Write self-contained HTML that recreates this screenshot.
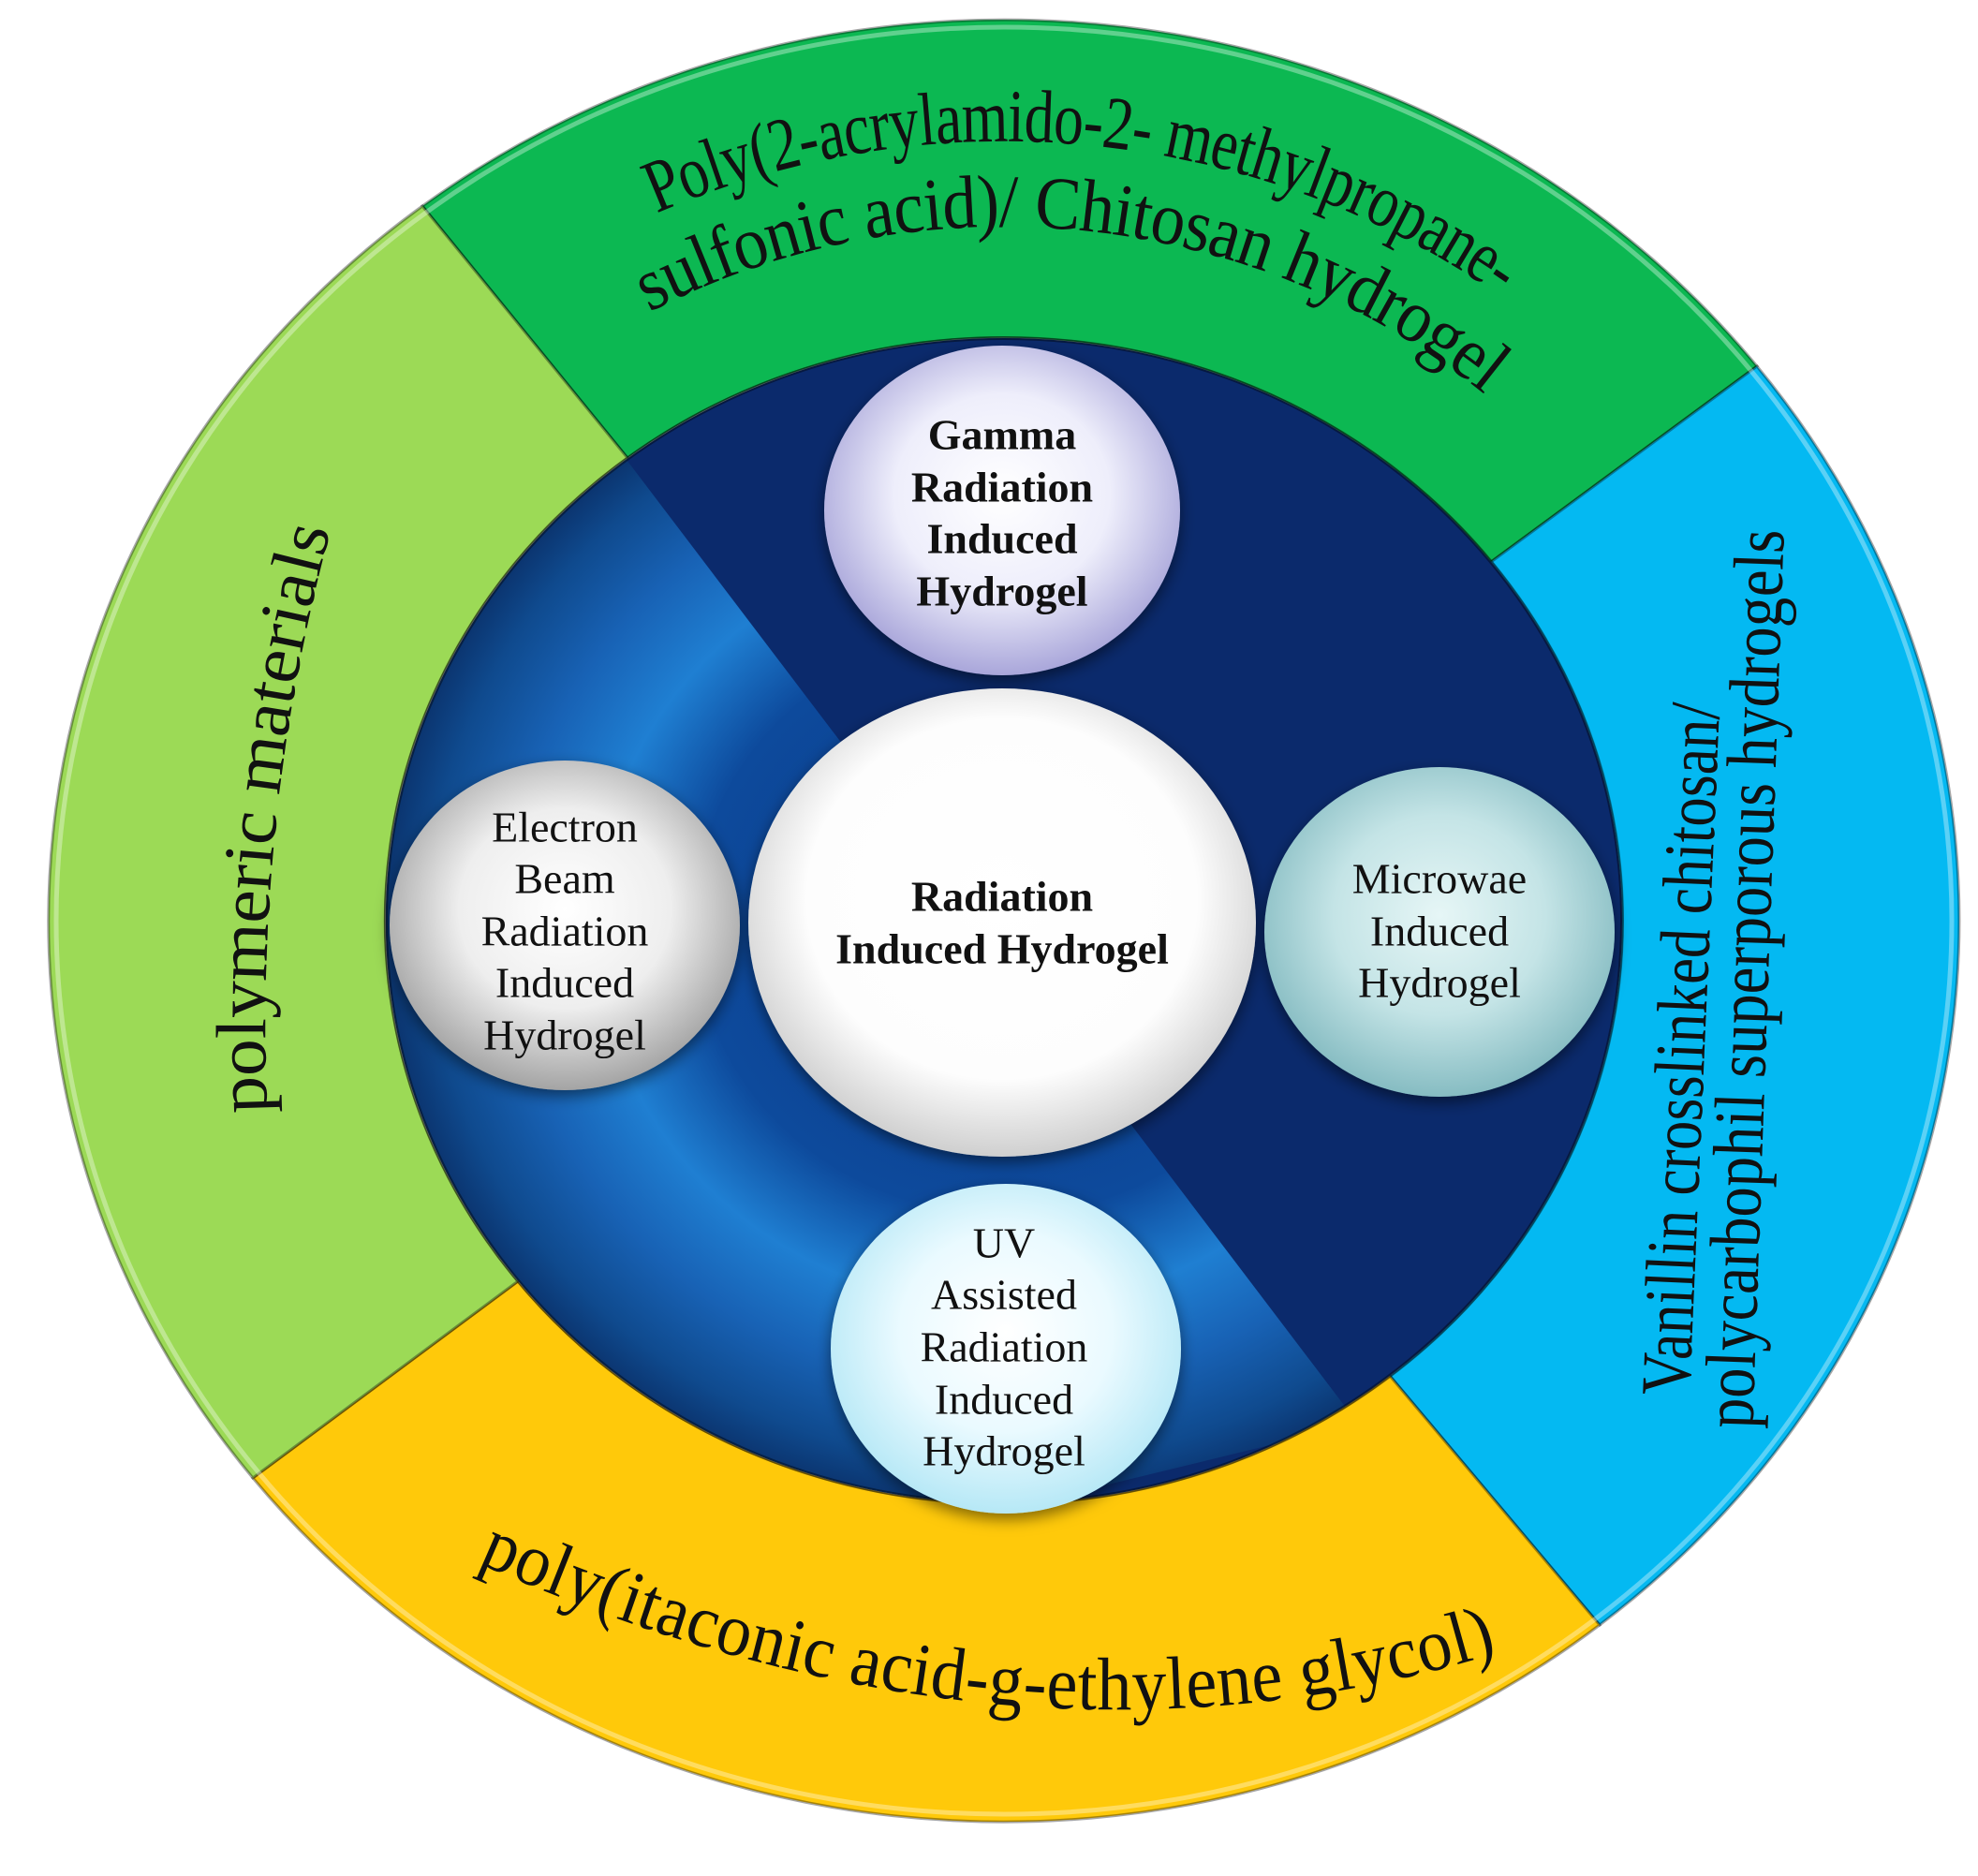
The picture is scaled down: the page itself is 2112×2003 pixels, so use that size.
<!DOCTYPE html>
<html><head><meta charset="utf-8"><style>
html,body{margin:0;padding:0;background:#fff;}
svg{display:block;}
text{font-family:"Liberation Serif",serif;fill:#111;}
</style></head><body>
<svg width="2112" height="2003" viewBox="0 0 2112 2003" xmlns="http://www.w3.org/2000/svg">
<defs>
  <radialGradient id="ring" cx="1072" cy="985" r="660" gradientUnits="userSpaceOnUse" gradientTransform="translate(0,56) scale(1,0.943)">
    <stop offset="0" stop-color="#0a3a88"/>
    <stop offset="0.5" stop-color="#0d4a9c"/>
    <stop offset="0.66" stop-color="#1f7fd2"/>
    <stop offset="0.8" stop-color="#1862b5"/>
    <stop offset="0.93" stop-color="#0f4a8e"/>
    <stop offset="1" stop-color="#0b3570"/>
  </radialGradient>
  <radialGradient id="gW" cx="0.5" cy="0.45" r="0.55">
    <stop offset="0" stop-color="#ffffff"/><stop offset="0.7" stop-color="#fdfdfd"/><stop offset="1" stop-color="#cfcfcf"/>
  </radialGradient>
  <radialGradient id="gGamma" cx="0.5" cy="0.45" r="0.55">
    <stop offset="0" stop-color="#ffffff"/><stop offset="0.55" stop-color="#eeeefb"/><stop offset="1" stop-color="#a9a6da"/>
  </radialGradient>
  <radialGradient id="gGray" cx="0.5" cy="0.45" r="0.55">
    <stop offset="0" stop-color="#ffffff"/><stop offset="0.55" stop-color="#eeeeee"/><stop offset="1" stop-color="#a4a4a4"/>
  </radialGradient>
  <radialGradient id="gTeal" cx="0.5" cy="0.45" r="0.55">
    <stop offset="0" stop-color="#e6f6f6"/><stop offset="0.55" stop-color="#c4e4e6"/><stop offset="1" stop-color="#86bcc2"/>
  </radialGradient>
  <radialGradient id="gCyan" cx="0.5" cy="0.45" r="0.55">
    <stop offset="0" stop-color="#ffffff"/><stop offset="0.55" stop-color="#eafaff"/><stop offset="1" stop-color="#b6e8f6"/>
  </radialGradient>
  <filter id="sh" x="-20%" y="-20%" width="140%" height="140%">
    <feDropShadow dx="0" dy="6" stdDeviation="8" flood-color="#000" flood-opacity="0.5"/>
  </filter>
  <clipPath id="lowleft"><polygon points="600,400 1450,1520 300,1800 250,400"/></clipPath>
  <path id="pG1" d="M617,240 A910 858 0 0 1 1681,345"/>
  <path id="pG2" d="M665,319 A813 767 0 0 1 1616,413"/>
  <path id="pL" d="M262,1230 Q241,857 340,520"/>
  <path id="pY" d="M521,1645 Q1084,1895 1591,1740"/>
</defs>

<g stroke="rgba(0,0,0,0.35)" stroke-width="3">
  <path d="M451,220 A1020 962 0 0 1 1876,391 L1592,600 A660 622 0 0 0 670,489 Z" fill="#0cb852"/>
  <path d="M1876,391 A1020 962 0 0 1 1708,1735 L1484,1469 A660 622 0 0 0 1592,600 Z" fill="#04b9f2"/>
  <path d="M1708,1735 A1020 962 0 0 1 270,1578 L553,1368 A660 622 0 0 0 1484,1469 Z" fill="#ffc90a"/>
  <path d="M270,1578 A1020 962 0 0 1 451,220 L670,489 A660 622 0 0 0 553,1368 Z" fill="#9cda56"/>
</g>
<ellipse cx="1072" cy="983" rx="1012" ry="954" fill="none" stroke="rgba(255,255,255,0.35)" stroke-width="5"/>

<ellipse cx="1072" cy="983" rx="660" ry="622" fill="#0b2a6c"/>
<ellipse cx="1072" cy="983" rx="660" ry="622" fill="url(#ring)" clip-path="url(#lowleft)"/>
<ellipse cx="1072" cy="983" rx="660" ry="622" fill="none" stroke="rgba(0,0,0,0.4)" stroke-width="4"/>

<g filter="url(#sh)">
  <ellipse cx="1070" cy="545" rx="190" ry="176" fill="url(#gGamma)"/>
  <ellipse cx="1070" cy="985" rx="271" ry="250" fill="url(#gW)"/>
  <ellipse cx="603" cy="988" rx="187" ry="176" fill="url(#gGray)"/>
  <ellipse cx="1537" cy="995" rx="187" ry="176" fill="url(#gTeal)"/>
  <ellipse cx="1074" cy="1440" rx="187" ry="176" fill="url(#gCyan)"/>
</g>

<g font-size="46" font-weight="bold" text-anchor="middle" dominant-baseline="central">
  <text x="1070" y="464">Gamma</text>
  <text x="1070" y="520">Radiation</text>
  <text x="1070" y="575">Induced</text>
  <text x="1070" y="631">Hydrogel</text>
  <text x="1070" y="957">Radiation</text>
  <text x="1070" y="1013">Induced Hydrogel</text>
</g>
<g font-size="46" text-anchor="middle" dominant-baseline="central">
  <text x="603" y="883">Electron</text>
  <text x="603" y="938">Beam</text>
  <text x="603" y="994">Radiation</text>
  <text x="603" y="1049">Induced</text>
  <text x="603" y="1105">Hydrogel</text>
  <text x="1537" y="938">Microwae</text>
  <text x="1537" y="994">Induced</text>
  <text x="1537" y="1049">Hydrogel</text>
  <text x="1072" y="1327">UV</text>
  <text x="1072" y="1382">Assisted</text>
  <text x="1072" y="1438">Radiation</text>
  <text x="1072" y="1494">Induced</text>
  <text x="1072" y="1549">Hydrogel</text>
</g>

<g font-size="80" dominant-baseline="central">
  <text text-anchor="middle"><textPath href="#pG1" startOffset="50%" textLength="970" lengthAdjust="spacingAndGlyphs">Poly(2-acrylamido-2- methylpropane-</textPath></text>
  <text text-anchor="middle"><textPath href="#pG2" startOffset="50%" textLength="976" lengthAdjust="spacingAndGlyphs">sulfonic acid)/ Chitosan hydrogel</textPath></text>
  <text text-anchor="middle" font-size="76"><textPath href="#pL" startOffset="50%" textLength="636" lengthAdjust="spacingAndGlyphs">polymeric materials</textPath></text>
  <text text-anchor="middle"><textPath href="#pY" startOffset="50%" textLength="1100" lengthAdjust="spacingAndGlyphs">poly(itaconic acid-g-ethylene glycol)</textPath></text>
  <text text-anchor="middle" font-size="76" transform="translate(1795,1120) rotate(-87.5)" x="0" y="0" textLength="740" lengthAdjust="spacingAndGlyphs">Vanillin crosslinked chitosan/</text>
  <text text-anchor="middle" font-size="76" transform="translate(1863,1045) rotate(-88)" x="0" y="0" textLength="960" lengthAdjust="spacingAndGlyphs">polycarbophil superporous hydrogels</text>
</g>
</svg>
</body></html>
